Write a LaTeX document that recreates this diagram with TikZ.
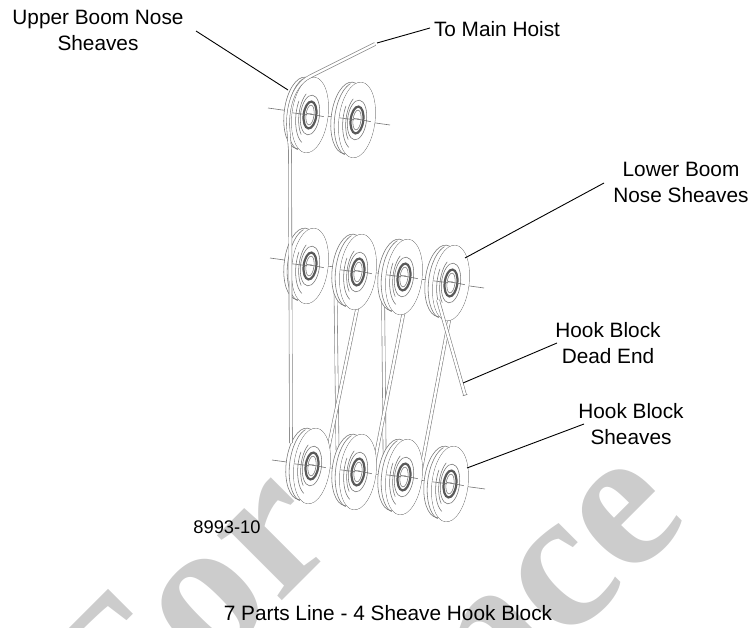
\documentclass[tikz,border=0pt]{standalone}
\usepackage{fontspec}
\setmainfont{Liberation Sans}
\newfontfamily\wmfont{Liberation Serif}
\tikzset{
  x=1pt,y=-1pt,
  sline/.style={draw=black!55,line width=0.55pt},
  hubring/.style={draw=black!65,line width=2.2pt},
  axle/.style={draw=black!55,line width=0.6pt},
  rope/.style={draw=black!50,line width=0.6pt,double=white,double distance=2.4pt},
  leader/.style={draw=black,line width=0.9pt},
  lbl/.style={font=\fontsize{20.8}{26}\selectfont,align=center,inner sep=0pt,text=black},
  wm/.style={font=\fontsize{200}{200}\selectfont\wmfont\bfseries,text=black!20,inner sep=0pt,rotate=45,anchor=base west}
}
\newcommand\sheavearc[3]{\draw[sline] plot[domain=#3,samples=24,smooth] ({#1*cos(\x)},{#2*sin(\x)});}
\newcommand\sheave[3]{%
  \coordinate (#1) at (#2,#3);
  \begin{scope}[shift={(#2,#3)},rotate=-7]
    \draw[sline,fill=white] (-9,-1) ellipse (17pt and 36pt);
    \draw[sline,fill=white] (0,0) ellipse (18pt and 38pt);
    \begin{scope}[shift={(-5,-0.5)}]\sheavearc{17.5}{37}{100:250}\end{scope}
    \draw[sline,fill=white,draw=none] (0,0) ellipse (17.7pt and 37.7pt);
    \sheavearc{14}{30}{110:205}
    \sheavearc{11}{25}{125:235}
    \draw[sline] (0,0) ellipse (9.5pt and 20pt);
    \draw[hubring] (0,0) ellipse (6.3pt and 13.5pt);
    \draw[sline,fill=white] (0,0) ellipse (4pt and 10pt);
    \draw[axle] (-18,0) -- (-3,0);
    \draw[axle] (0,-1) -- (14,0);
    \draw[axle,line width=0.9pt] (-3,-1) -- (2,-1);
  \end{scope}}
\begin{document}
\begin{tikzpicture}
\useasboundingbox (0,0) rectangle (752,628);
\clip (0,0) rectangle (752,628);
% watermark
\node[wm] (wmFor) at (121,762) {For};
\node[wm] (wmNce) at (487,724) {nce};
% axle lines
\coordinate (a1) at (268,108); \coordinate (a2) at (390,125);
\coordinate (b1) at (270,258); \coordinate (b2) at (484,288);
\coordinate (c1) at (272,460); \coordinate (c2) at (485,489);
\draw[axle] (a1) -- (a2);
\draw[axle] (b1) -- (b2);
\draw[axle] (c1) -- (c2);
% ropes behind the sheaves
\coordinate (r1a) at (335.5,290); \coordinate (r1b) at (337.5,450);
\coordinate (r2a) at (360,295); \coordinate (r2b) at (327,455);
\coordinate (r3a) at (383,290); \coordinate (r3b) at (384.6,455);
\coordinate (r4a) at (406,300); \coordinate (r4b) at (374,465);
\coordinate (r5a) at (452,305); \coordinate (r5b) at (421,470);
\draw[rope] (r1a) -- (r1b);
\draw[rope] (r2a) -- (r2b);
\draw[rope] (r3a) -- (r3b);
\draw[rope] (r4a) -- (r4b);
\draw[rope] (r5a) -- (r5b);
% sheaves
\sheave{u1}{310}{115}
\sheave{u2}{357}{120}
\sheave{m1}{310}{266}
\sheave{m2}{358}{272}
\sheave{m3}{404}{277}
\sheave{m4}{451}{283}
\sheave{h1}{312}{466}
\sheave{h2}{358}{472}
\sheave{h3}{404}{477}
\sheave{h4}{450}{484}
% main rope
\coordinate (hoistEnd) at (375,44);
\coordinate (mainA) at (311,76);
\coordinate (mainB) at (288,125);
\coordinate (mainC) at (290,150);
\coordinate (mainD) at (291,443);
\draw[rope] (hoistEnd) -- (mainA) .. controls (298,82) and (288,98) .. (mainB) -- (mainC) -- (mainD);
% dead end
\coordinate (deadA) at (438,300);
\coordinate (deadB) at (465,395);
\draw[rope] (deadA) -- (deadB);
\coordinate (capA) at (462.8,395.8); \coordinate (capB) at (467.4,394.4);
\draw[sline] (capA) -- (capB);
% labels
\node[lbl] (upper) at (98,30) {Upper Boom Nose\\Sheaves};
\node[lbl] (hoist) at (497,29) {To Main Hoist};
\node[lbl] (lower) at (681,182) {Lower Boom\\Nose Sheaves};
\node[lbl] (dead) at (608,343) {Hook Block\\Dead End};
\node[lbl] (hook) at (631,424) {Hook Block\\Sheaves};
\node[lbl,font=\fontsize{18.3}{22}\selectfont] (fig) at (227,527) {8993-10};
\node[lbl] (cap) at (388,613) {7 Parts Line - 4 Sheave Hook Block};
% leaders
\coordinate (t1) at (196,31); \coordinate (t2) at (288,90);
\coordinate (t3) at (430,28); \coordinate (t4) at (377,43);
\coordinate (t5) at (604,183); \coordinate (t6) at (465,258);
\coordinate (t7) at (557,343); \coordinate (t8) at (463,383);
\coordinate (t9) at (584,424); \coordinate (t10) at (467,468);
\draw[leader] (t1) -- (t2);
\draw[leader] (t3) -- (t4);
\draw[leader] (t5) -- (t6);
\draw[leader] (t7) -- (t8);
\draw[leader] (t9) -- (t10);
\end{tikzpicture}
\end{document}
